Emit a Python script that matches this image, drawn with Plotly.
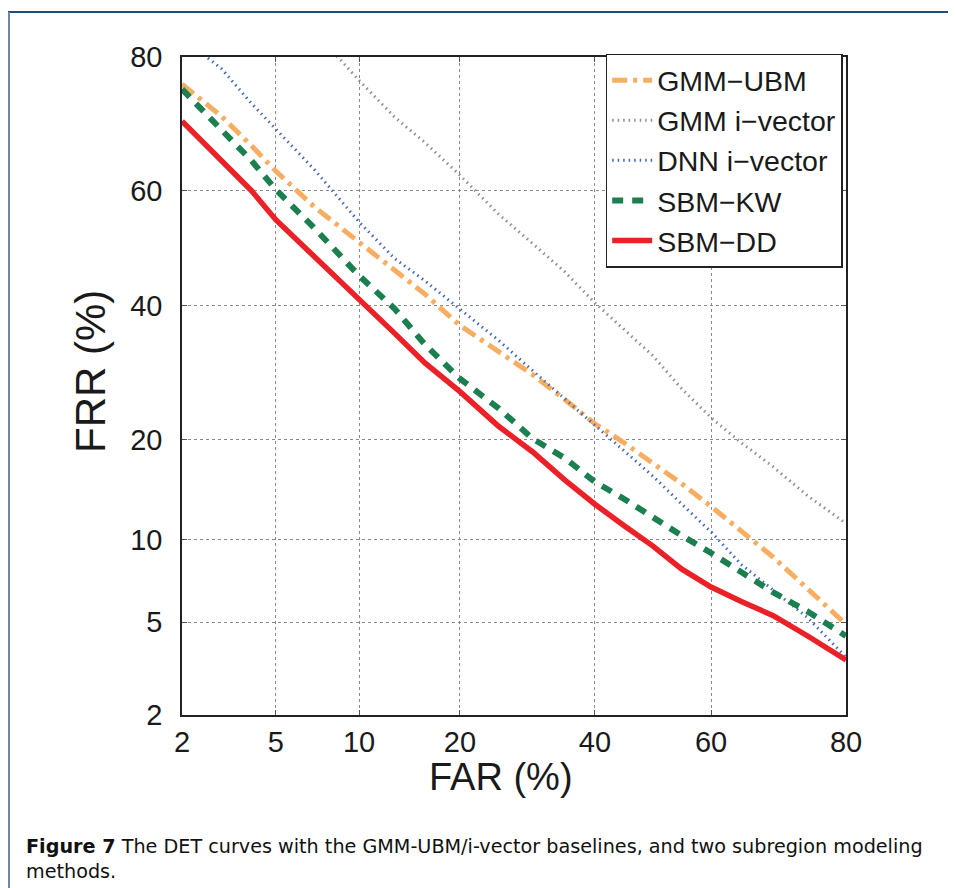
import plotly.graph_objects as go
from statistics import NormalDist

# ---------------- data (percent) ----------------
far_grid = [2, 3, 4, 5, 7, 10, 13, 16, 20, 25, 30, 35, 40, 45, 50, 55, 60, 65, 70, 75, 80]
gmm_ubm_frr = [76.5, 71.9, 67.4, 63.3, 57.2, 51.1, 46.0, 42.0, 36.7, 32.5, 28.9, 25.3, 22.0,
               19.6, 17.2, 15.0, 12.8, 10.7, 8.7, 6.7, 4.9]
dnn_ivec_frr = [82.3, 78.5, 73.8, 70.0, 63.5, 54.6, 48.2, 44.3, 39.5, 34.3, 29.5, 25.4, 21.8,
                18.6, 15.8, 13.0, 10.6, 8.2, 6.6, 5.2, 3.6]
sbm_kw_frr = [75.8, 70.0, 65.0, 60.2, 53.5, 45.2, 39.5, 33.6, 28.3, 24.1, 20.1, 17.8, 15.2,
              13.5, 11.8, 10.3, 9.0, 7.7, 6.5, 5.5, 4.4]
sbm_dd_frr = [71.2, 65.0, 60.0, 55.0, 48.6, 41.2, 35.4, 30.7, 26.4, 21.7, 18.5, 15.4, 13.0,
              11.1, 9.5, 7.9, 6.8, 6.0, 5.3, 4.4, 3.5]
gmm_ivec_far = [7, 10, 13, 16, 20, 25, 30, 35, 40, 45, 50, 55, 60, 65, 70, 75, 80]
gmm_ivec_frr = [83.0, 77.0, 71.8, 67.9, 62.6, 56.0, 50.8, 45.9, 40.5, 36.1, 31.8, 26.8, 22.8,
                19.6, 16.8, 13.8, 11.3]

tick_pct = [2, 5, 10, 20, 40, 60, 80]
tick_text = ["2", "5", "10", "20", "40", "60", "80"]

nd = NormalDist()


def probit(vals):
    return [nd.inv_cdf(v / 100.0) for v in vals]


FONT = "Liberation Sans, Arial, Helvetica, sans-serif"

fig = go.Figure()

fig.add_trace(go.Scatter(x=probit(far_grid), y=probit(gmm_ubm_frr), mode="lines", name="GMM\u2212UBM",
                         line=dict(color="#F8AE62", width=5, dash="15px,6px,4px,6px")))
fig.add_trace(go.Scatter(x=probit(gmm_ivec_far), y=probit(gmm_ivec_frr), mode="lines", name="GMM i\u2212vector",
                         line=dict(color="#8E8E8E", width=3, dash="1.5px,4px")))
fig.add_trace(go.Scatter(x=probit(far_grid), y=probit(dnn_ivec_frr), mode="lines", name="DNN i\u2212vector",
                         line=dict(color="#4468B8", width=3, dash="1.5px,4px")))
fig.add_trace(go.Scatter(x=probit(far_grid), y=probit(sbm_kw_frr), mode="lines", name="SBM\u2212KW",
                         line=dict(color="#1B7F50", width=6, dash="11px,9px")))
fig.add_trace(go.Scatter(x=probit(far_grid), y=probit(sbm_dd_frr), mode="lines", name="SBM\u2212DD",
                         line=dict(color="#EC2128", width=5.5)))

axis_common = dict(
    tickmode="array",
    tickvals=probit(tick_pct),
    ticktext=tick_text,
    range=[nd.inv_cdf(0.02), nd.inv_cdf(0.80)],
    showgrid=True,
    gridcolor="#8a8a8a",
    gridwidth=1,
    griddash="dot",
    zeroline=False,
    showline=True,
    linecolor="#222222",
    linewidth=1.5,
    mirror="allticks",
    ticks="inside",
    ticklen=5,
    tickcolor="#555555",
    tickfont=dict(family=FONT, size=29, color="#1a1a1a"),
)

fig.update_xaxes(**axis_common, ticklabelstandoff=0)
fig.update_yaxes(**axis_common, ticklabelstandoff=12)

# page is offset by the 8px default body margin -> figure is 8px smaller
fig.update_layout(
    width=948, height=880,
    margin=dict(l=174, r=110, t=49, b=173, autoexpand=False),
    paper_bgcolor="white",
    plot_bgcolor="white",
    showlegend=True,
    legend=dict(x=0.995, y=1.005, xanchor="right", yanchor="top",
                bgcolor="white", bordercolor="#222222", borderwidth=1.5,
                font=dict(family=FONT, size=28.5, color="#1a1a1a"),
                tracegroupgap=0, itemwidth=40),
)

# axis titles (placed in plot-area paper coords; plot area spans page px 182..846 x 57..715)
fig.add_annotation(xref="paper", yref="paper", x=(501 - 182) / 664, y=(715 - 754) / 658,
                   xanchor="center", yanchor="top", showarrow=False, text="FAR (%)",
                   font=dict(family=FONT, size=38, color="#1a1a1a"))
fig.add_annotation(xref="paper", yref="paper", x=(90 - 182) / 664, y=(715 - 372) / 658,
                   xanchor="center", yanchor="middle", showarrow=False, text="FRR (%)", textangle=-90,
                   font=dict(family=FONT, size=42, color="#1a1a1a"))

# page frame lines (journal layout)
fig.add_shape(type="line", xref="paper", yref="paper",
              x0=(7 - 182) / 664, x1=(960 - 182) / 664,
              y0=(715 - 12) / 658, y1=(715 - 12) / 658,
              line=dict(color="#1F4A7E", width=2))
fig.add_shape(type="line", xref="paper", yref="paper",
              x0=(9 - 182) / 664, x1=(9 - 182) / 664,
              y0=(715 - 12) / 658, y1=(715 - 895) / 658,
              line=dict(color="#6F84A6", width=2))

fig.add_annotation(
    xref="paper", yref="paper",
    x=(24 - 182) / 664, y=(715 - 833) / 658,
    xanchor="left", yanchor="top", align="left", showarrow=False,
    text="<b>Figure 7</b> The DET curves with the GMM-UBM/i-vector baselines, and two subregion modeling<br>methods.",
    font=dict(family="DejaVu Sans, sans-serif", size=19.2, color="#111111"),
)

fig.write_html("out.html")
